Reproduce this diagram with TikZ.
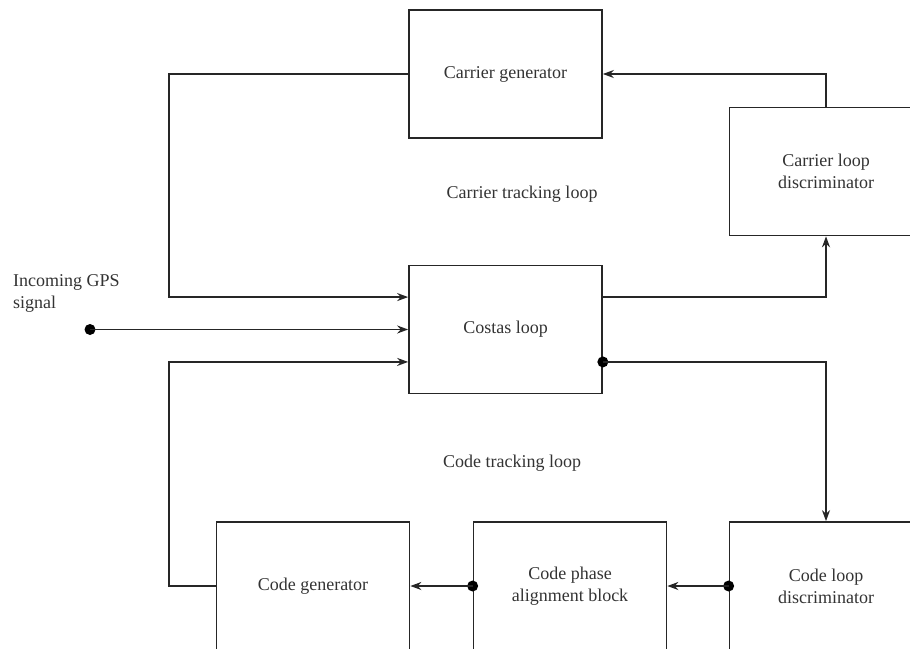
\documentclass[tikz,border=0pt]{standalone}
\usepackage{fontspec}
\setmainfont{Liberation Serif}
\usetikzlibrary{arrows.meta,calc}
\begin{document}
\begin{tikzpicture}[
    x=1pt, y=-1pt,
    block/.style={rectangle, draw=black!85, line width=1.7pt, minimum width=193pt, minimum height=128pt, align=center, inner sep=0pt, font=\fontsize{18}{22}\selectfont, text=black!80},
    looplabel/.style={font=\fontsize{18}{22}\selectfont, text=black!80, inner sep=0pt},
    arrow/.style={-{Stealth[length=11pt,width=8pt]}, line width=1.7pt, draw=black!85},
    dot/.style={circle, fill=black, inner sep=0pt, minimum size=11pt}
]
\clip (0,0) rectangle (910,648);
\useasboundingbox (0,0) rectangle (910,648);

% blocks
\node[block] (cargen) at (505.5,74) {Carrier generator};
\node[block] (cardisc) at (826,171.5) {Carrier loop\\discriminator};
\node[block] (costas) at (505.5,329.5) {Costas loop};
\node[block] (codegen) at (313,586) {Code generator};
\node[block] (phase) at (570,586) {Code phase\\alignment block};
\node[block] (codedisc) at (826,586) {Code loop\\discriminator};

% labels
\node[looplabel] (cartrack) at (522,194) {Carrier tracking loop};
\node[looplabel] (codetrack) at (512,463) {Code tracking loop};
\node[looplabel, align=left, anchor=west] (gpstext) at (13,293) {Incoming GPS\\signal};

% ports on the Costas loop
\coordinate (in1) at ($(costas.north west)!0.25!(costas.south west)$);
\coordinate (in3) at ($(costas.north west)!0.75!(costas.south west)$);
\coordinate (out1) at ($(costas.north east)!0.25!(costas.south east)$);
\coordinate (out2) at ($(costas.north east)!0.75!(costas.south east)$);
\coordinate (lbus) at (169,0);

\node[dot] (gps) at (90,329.5) {};
\node[dot] (outdot) at (out2) {};
\node[dot] (phasedot) at (phase.west) {};
\node[dot] (discdot) at (codedisc.west) {};

% carrier loop
\draw[arrow] (cargen.west) -- (cargen.west -| lbus) |- (in1);
\draw[arrow] (out1) -| (cardisc.south);
\draw[arrow] (cardisc.north) |- (cargen.east);

% input
\draw[arrow] (gps.center) -- (costas.west);

% code loop
\draw[arrow] (outdot.center) -| (codedisc.north);
\draw[arrow] (discdot.center) -- (phase.east);
\draw[arrow] (phasedot.center) -- (codegen.east);
\draw[arrow] (codegen.west) -- (codegen.west -| lbus) |- (in3);
\end{tikzpicture}
\end{document}
